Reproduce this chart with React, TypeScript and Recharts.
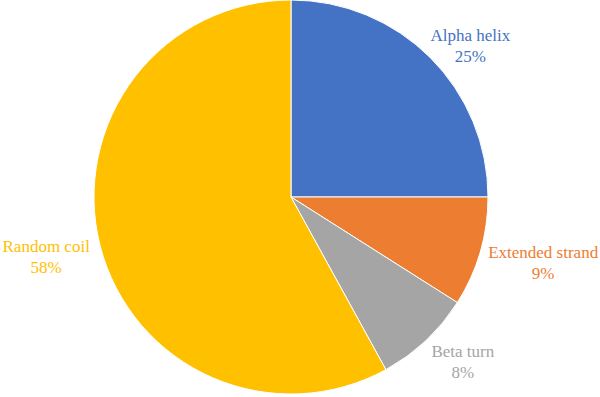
import { PieChart, Pie, Cell } from 'recharts'

const names = ['Alpha helix', 'Extended strand', 'Beta turn', 'Random coil']
const shares = [25, 9, 8, 58]
const COLORS = ['#4472C4', '#ED7D31', '#A5A5A5', '#FFC000']

// label nudges from the slice edge (Excel "best fit" placement)
const LABEL_NUDGE = [
  [40, -17],
  [63, 6],
  [37, 16],
  [-54, 6],
]

const data = names.map((name, i) => ({ name, value: shares[i] }))

const RAD = Math.PI / 180

function renderLabel(props: any) {
  const { cx, cy, midAngle, outerRadius, index } = props
  const ex = cx + outerRadius * Math.cos(-midAngle * RAD)
  const ey = cy + outerRadius * Math.sin(-midAngle * RAD)
  const [dx, dy] = LABEL_NUDGE[index]
  const x = ex + dx
  const y = ey + dy
  return (
    <text
      x={x}
      y={y}
      fill={COLORS[index]}
      textAnchor="middle"
      fontFamily="'Liberation Serif', 'DejaVu Serif', serif"
      fontSize={17}
    >
      <tspan x={x} dy={0}>{data[index].name}</tspan>
      <tspan x={x} dy={21}>{`${data[index].value}%`}</tspan>
    </text>
  )
}

export default function App() {
  return (
    <div style={{ position: 'absolute', left: 0, top: 0, width: 600, height: 397, background: '#fff' }}>
      <PieChart width={600} height={397} margin={{ top: 0, right: 0, bottom: 0, left: 0 }}>
        <Pie
          data={data}
          dataKey="value"
          cx={291}
          cy={197}
          outerRadius={197}
          startAngle={90}
          endAngle={-270}
          stroke="#fff"
          strokeWidth={1}
          label={renderLabel}
          labelLine={false}
          isAnimationActive={false}
        >
          {data.map((_, i) => (
            <Cell key={i} fill={COLORS[i]} />
          ))}
        </Pie>
      </PieChart>
    </div>
  )
}
